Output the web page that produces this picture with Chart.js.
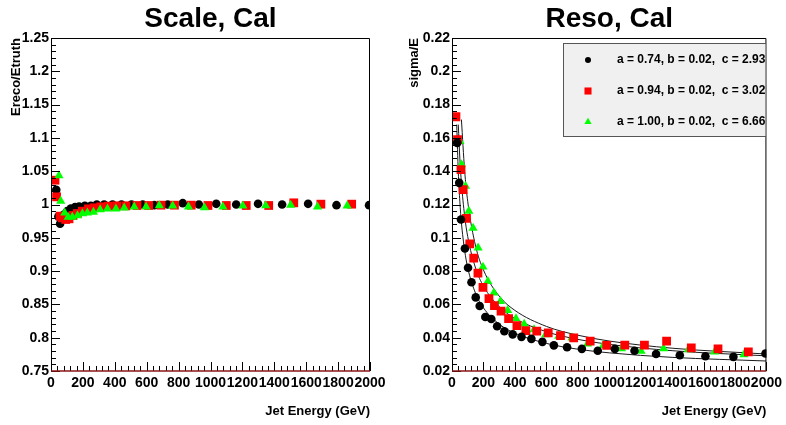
<!DOCTYPE html>
<html>
<head>
<meta charset="utf-8">
<script src="https://cdn.jsdelivr.net/npm/chart.js@4.4.1/dist/chart.umd.min.js"></script>
<style>
  html, body { margin: 0; padding: 0; background: #fff; }
  #wrap { position: relative; width: 786px; height: 425px; }
  canvas { position: absolute; top: 0; }
</style>
</head>
<body>
<div id="wrap">
  <canvas id="scale" width="393" height="425" style="left:0"></canvas>
  <canvas id="reso" width="393" height="425" style="left:393px"></canvas>
</div>
<script>
// jet energies (GeV) of each sample
const blackE = [33, 46, 57, 82, 102, 124, 151, 176, 212, 250, 287, 333, 386, 442, 505, 575, 648, 732, 826, 927, 1036, 1161, 1298, 1449, 1612, 1790, 1994]
const redE = [25, 35, 57, 71, 92, 113, 138, 165, 197, 235, 270, 312, 360, 413, 470, 539, 612, 690, 774, 879, 984, 1099, 1224, 1365, 1522, 1692, 1885]
const greenE = [50, 61, 86, 107, 134, 166, 197, 228, 266, 308, 354, 407, 459, 522, 596, 679, 763, 862, 962, 1078, 1203, 1346, 1503, 1671, 1857]

// Ereco/Etruth
const blackScale = [1.022, 0.982, 0.971, 0.985, 0.990, 0.994, 0.996, 0.997, 0.998, 0.998, 1.000, 1.000, 1.000, 1.000, 1.000, 1.000, 0.999, 1.000, 1.002, 1.000, 1.001, 1.000, 1.001, 1.000, 1.001, 0.999, 0.999]
const redScale = [1.0365, 1.0115, 0.9825, 0.980, 0.9775, 0.9785, 0.9835, 0.9865, 0.990, 0.9935, 0.995, 0.9965, 0.9975, 0.998, 0.998, 0.9985, 0.9985, 0.999, 0.999, 0.999, 0.9985, 0.9985, 0.9985, 0.9985, 1.0025, 1.0005, 1.0005]
const greenScale = [1.0435, 1.005, 0.9875, 0.981, 0.981, 0.9835, 0.9865, 0.9875, 0.9885, 0.9925, 0.9935, 0.9935, 0.995, 0.9965, 0.9965, 0.9985, 0.998, 0.9965, 0.9955, 0.9965, 0.998, 0.9985, 0.999, 0.9965, 0.998]

// sigma/E
const blackReso = [0.157, 0.133, 0.111, 0.0936, 0.082, 0.0733, 0.0642, 0.059, 0.0524, 0.0512, 0.0469, 0.0439, 0.042, 0.0405, 0.0393, 0.0375, 0.0354, 0.0343, 0.0333, 0.0322, 0.0333, 0.0322, 0.0302, 0.0295, 0.0289, 0.0285, 0.0305]
const redReso = [0.1727, 0.159, 0.141, 0.129, 0.1117, 0.0964, 0.0878, 0.0788, 0.0702, 0.0634, 0.0593, 0.0559, 0.0515, 0.0473, 0.0443, 0.0439, 0.0429, 0.0413, 0.0399, 0.0379, 0.0354, 0.0356, 0.0356, 0.0379, 0.0339, 0.0333, 0.0315]
const greenReso = [0.158, 0.144, 0.131, 0.116, 0.1058, 0.094, 0.0825, 0.0738, 0.067, 0.0618, 0.0564, 0.0515, 0.0482, 0.0449, 0.0419, 0.0409, 0.0399, 0.0363, 0.0353, 0.0335, 0.0319, 0.0335, 0.0329, 0.0315, 0.0299]

// fit curves
const blackFitE = [30, 40, 50, 60, 80, 100, 150, 200, 300, 400, 600, 800, 1000, 1400, 2000]
const blackFit = [0.168, 0.1395, 0.1216, 0.109, 0.0927, 0.082, 0.0666, 0.0579, 0.0482, 0.0427, 0.0366, 0.0331, 0.0309, 0.0282, 0.0260]
const redFitE = [40, 50, 60, 80, 100, 150, 200, 300, 400, 600, 800, 1000, 1400, 2000]
const redFit = [0.168, 0.1474, 0.1329, 0.1135, 0.1007, 0.0818, 0.0710, 0.0587, 0.0516, 0.0436, 0.0390, 0.0360, 0.0322, 0.0291]
const greenFitE = [60, 80, 100, 150, 200, 300, 400, 600, 800, 1000, 1400, 2000]
const greenFit = [0.171, 0.1408, 0.1218, 0.0951, 0.0807, 0.0650, 0.0564, 0.0468, 0.0415, 0.0380, 0.0337, 0.0302]

const legendLabels = ['a = 0.74, b = 0.02,  c = 2.93', 'a = 0.94, b = 0.02,  c = 3.02', 'a = 1.00, b = 0.02,  c = 6.66']

const xTicks = [0, 200, 400, 600, 800, 1000, 1200, 1400, 1600, 1800, 2000]
const scaleTicks = [0.75, 0.8, 0.85, 0.9, 0.95, 1, 1.05, 1.1, 1.15, 1.2, 1.25]
const resoTicks = [0.02, 0.04, 0.06, 0.08, 0.1, 0.12, 0.14, 0.16, 0.18, 0.2, 0.22]

const FONT = '"Liberation Sans", Arial, Helvetica, sans-serif'
Chart.defaults.font.family = FONT
Chart.defaults.color = '#000'

const pts = (xs, ys) => xs.map((x, i) => ({x: x, y: ys[i]}))

const markers = [
  {color: '#000000', style: 'circle', radius: 4.3, legendRadius: 3},
  {color: '#ff0000', style: 'rect', radius: 6.2, legendRadius: 5},
  {color: '#00ff00', style: 'triangle', radius: 5.3, legendRadius: 4.2}
]

const pointSet = (label, data, m) => ({
  label: label,
  data: data,
  showLine: false,
  pointStyle: m.style,
  pointRadius: m.radius,
  pointBackgroundColor: m.color,
  pointBorderColor: m.color,
  pointBorderWidth: 0,
  legendRadius: m.legendRadius,
  order: 1
})

const fitSet = (data) => ({
  data: data,
  showLine: true,
  pointRadius: 0,
  borderColor: '#1a1a1a',
  borderWidth: 1,
  cubicInterpolationMode: 'monotone',
  order: 2
})

// ROOT-like frame, inside ticks and the pad title
const rootFrame = {
  id: 'rootFrame',
  afterDraw(chart, args, o) {
    const {ctx, chartArea: a, scales: {x, y}} = chart
    ctx.save()
    ctx.strokeStyle = '#000'
    ctx.lineWidth = 1
    ctx.beginPath()
    for (let i = 0; i <= 50; i++) {
      const px = Math.round(x.getPixelForValue(i * 40)) + 0.5
      const len = i % 5 === 0 ? 9 : 5
      ctx.moveTo(px, a.bottom)
      ctx.lineTo(px, a.bottom - len)
    }
    const n = Math.round((y.max - y.min) / o.yMinor)
    for (let i = 0; i <= n; i++) {
      const py = Math.round(y.getPixelForValue(y.min + i * o.yMinor)) + 0.5
      const len = i % 5 === 0 ? 9 : 5
      ctx.moveTo(a.left, py)
      ctx.lineTo(a.left + len, py)
    }
    ctx.stroke()
    ctx.beginPath()
    ctx.moveTo(a.left + 0.5, a.bottom)
    ctx.lineTo(a.left + 0.5, a.top + 0.5)
    ctx.lineTo(a.right - 0.5, a.top + 0.5)
    ctx.lineTo(a.right - 0.5, a.bottom)
    ctx.stroke()
    ctx.strokeStyle = '#8b1414'
    ctx.lineWidth = 1.5
    ctx.beginPath()
    ctx.moveTo(a.left, a.bottom)
    ctx.lineTo(a.right, a.bottom)
    ctx.stroke()

    ctx.fillStyle = '#000'
    ctx.font = 'bold 28px ' + FONT
    ctx.textAlign = 'center'
    ctx.textBaseline = 'alphabetic'
    ctx.fillText(o.title, (a.left + a.right) / 2, 27)
    ctx.restore()
  }
}

// boxed legend, top right of the pad
const boxLegend = {
  id: 'boxLegend',
  afterDraw(chart, args, o) {
    if (!o.show) return
    const {ctx, chartArea: a} = chart
    const left = o.left, top = o.top, right = a.right, bottom = o.bottom
    ctx.save()
    ctx.fillStyle = '#f0f0f0'
    ctx.fillRect(left, top, right - left, bottom - top)
    ctx.strokeStyle = '#555'
    ctx.lineWidth = 1
    ctx.strokeRect(left + 0.5, top + 0.5, right - left - 1, bottom - top - 1)
    const sets = chart.data.datasets.filter(d => d.label)
    sets.forEach((d, i) => {
      const cy = o.firstRow + i * o.rowStep
      ctx.fillStyle = d.pointBackgroundColor
      ctx.strokeStyle = d.pointBackgroundColor
      Chart.helpers.drawPoint(ctx, {pointStyle: d.pointStyle, radius: d.legendRadius, rotation: 0, borderWidth: 0}, o.markerX, cy)
      ctx.fillStyle = '#000'
      ctx.font = 'bold 12px ' + FONT
      ctx.textAlign = 'left'
      ctx.textBaseline = 'middle'
      ctx.fillText(d.label, o.textX, cy)
    })
    ctx.restore()
  }
}

const makeScales = (yMin, yMax, yTicks, yTitle, yWidth, yTitlePad) => ({
  x: {
    type: 'linear',
    min: 0,
    max: 2000,
    afterBuildTicks: s => { s.ticks = xTicks.map(v => ({value: v})) },
    afterFit: s => { s.height = 54 },
    grid: {display: false, drawTicks: false},
    border: {display: false},
    ticks: {autoSkip: false, maxRotation: 0, minRotation: 0, padding: 4, color: '#000',
      font: {size: 14, weight: 'bold'}, callback: v => String(v)},
    title: {display: true, text: 'Jet Energy (GeV)', align: 'end', color: '#000',
      font: {size: 13, weight: 'bold'}, padding: {top: 0, bottom: 6}}
  },
  y: {
    type: 'linear',
    min: yMin,
    max: yMax,
    afterBuildTicks: s => { s.ticks = yTicks.map(v => ({value: v})) },
    afterFit: s => { s.width = yWidth },
    grid: {display: false, drawTicks: false},
    border: {display: false},
    ticks: {autoSkip: false, padding: 2, color: '#000',
      font: {size: 14, weight: 'bold'}, callback: v => String(+v.toFixed(2))},
    title: {display: true, text: yTitle, align: 'end', color: '#000',
      font: {size: 13, weight: 'bold'}, padding: {top: yTitlePad, bottom: 0}}
  }
})

new Chart(document.getElementById('scale'), {
  type: 'scatter',
  data: {
    datasets: [
      pointSet(null, pts(greenE, greenScale), markers[2]),
      pointSet(null, pts(redE, redScale), markers[1]),
      pointSet(null, pts(blackE, blackScale), markers[0])
    ]
  },
  options: {
    responsive: false,
    animation: false,
    devicePixelRatio: 1,
    layout: {padding: {left: 0, right: 23, top: 38, bottom: 0}},
    scales: makeScales(0.75, 1.25, scaleTicks, 'Ereco/Etruth', 51, 9),
    plugins: {
      legend: {display: false},
      tooltip: {enabled: false},
      rootFrame: {title: 'Scale, Cal', yMinor: 0.01},
      boxLegend: {show: false}
    }
  },
  plugins: [rootFrame, boxLegend]
})

new Chart(document.getElementById('reso'), {
  type: 'scatter',
  data: {
    datasets: [
      pointSet(legendLabels[0], pts(blackE, blackReso), markers[0]),
      pointSet(legendLabels[1], pts(redE, redReso), markers[1]),
      pointSet(legendLabels[2], pts(greenE, greenReso), markers[2]),
      fitSet(pts(blackFitE, blackFit)),
      fitSet(pts(redFitE, redFit)),
      fitSet(pts(greenFitE, greenFit))
    ]
  },
  options: {
    responsive: false,
    animation: false,
    devicePixelRatio: 1,
    layout: {padding: {left: 0, right: 16, top: 38, bottom: 0}},
    scales: makeScales(0.02, 0.22, resoTicks, 'sigma/E', 59, 14),
    plugins: {
      legend: {display: false},
      tooltip: {enabled: false},
      rootFrame: {title: 'Reso, Cal', yMinor: 0.004},
      boxLegend: {show: true, left: 170, top: 43, bottom: 137, firstRow: 60, rowStep: 31, markerX: 195, textX: 224}
    }
  },
  plugins: [rootFrame, boxLegend]
})
</script>
</body>
</html>
